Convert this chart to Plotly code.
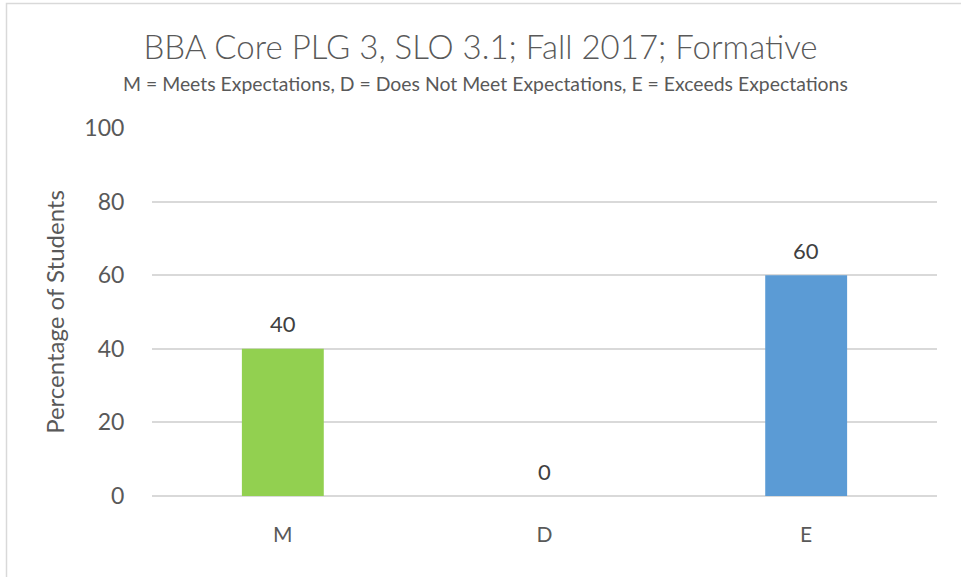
import plotly.graph_objects as go

categories = ["M", "D", "E"]
values = [40, 0, 60]
bar_colors = ["#92D050", "#5B9BD5", "#5B9BD5"]
y_ticks = [0, 20, 40, 60, 80, 100]

title_text = "BBA Core PLG 3, SLO 3.1; Fall 2017; Formative"
subtitle_text = "M = Meets Expectations, D = Does Not Meet Expectations, E = Exceeds Expectations"
y_title = "Percentage of Students"

W, H = 961, 577
ML, MR, MT, MB = 152, 24, 128, 81
PW = W - ML - MR
PH = H - MT - MB

FONT = "Lato"
GRAY = "#595959"

fig = go.Figure(go.Bar(
    x=categories, y=values,
    marker=dict(color=bar_colors, line=dict(width=0)),
    width=0.313,
    hoverinfo="x+y",
))

def px_x(px):
    return (px - ML) / PW

def px_y(py):
    return 1 - (py - MT) / PH

annotations = [dict(text=subtitle_text, xref="paper", yref="paper",
                    x=px_x(485), y=px_y(83), xanchor="center", yanchor="middle",
                    showarrow=False,
                    font=dict(family=FONT, size=19.4, color=GRAY))]
for c, v in zip(categories, values):
    annotations.append(dict(text=str(v), x=c, y=v, xref="x", yref="y",
                            xanchor="center", yanchor="middle", yshift=25,
                            showarrow=False,
                            font=dict(family=FONT, size=22, color="#404040")))

fig.update_layout(
    width=W, height=H,
    margin=dict(l=ML, r=MR, t=MT, b=MB),
    paper_bgcolor="white", plot_bgcolor="white",
    showlegend=False,
    title=dict(text=title_text, x=0.5, xref="container", xanchor="center",
               y=1 - 47 / H, yref="container", yanchor="middle",
               font=dict(family=FONT, size=33, color=GRAY, weight=300)),
    annotations=annotations,
    shapes=[dict(type="rect", xref="paper", yref="paper",
                 x0=px_x(6.5), x1=px_x(970), y0=px_y(3.5), y1=px_y(590),
                 line=dict(color="#D9D9D9", width=1.5), fillcolor="rgba(0,0,0,0)",
                 layer="below")],
    xaxis=dict(
        showgrid=False, zeroline=False, showline=False,
        ticks="outside", ticklen=20, tickcolor="rgba(0,0,0,0)",
        tickfont=dict(family=FONT, size=21, color=GRAY),
    ),
    yaxis=dict(
        range=[0, 100], tickvals=y_ticks,
        showgrid=True, gridcolor="#D9D9D9", gridwidth=1.5,
        zeroline=True, zerolinecolor="#D9D9D9", zerolinewidth=1.5,
        showline=False,
        ticks="outside", ticklen=22, tickcolor="rgba(0,0,0,0)",
        tickfont=dict(family=FONT, size=23, color=GRAY),
        title=dict(text=y_title, standoff=12,
                   font=dict(family=FONT, size=24, color=GRAY)),
    ),
    bargap=0.687,
)

fig.write_html("out.html", config={"displayModeBar": False},
               post_script="document.body.style.margin='0';")
